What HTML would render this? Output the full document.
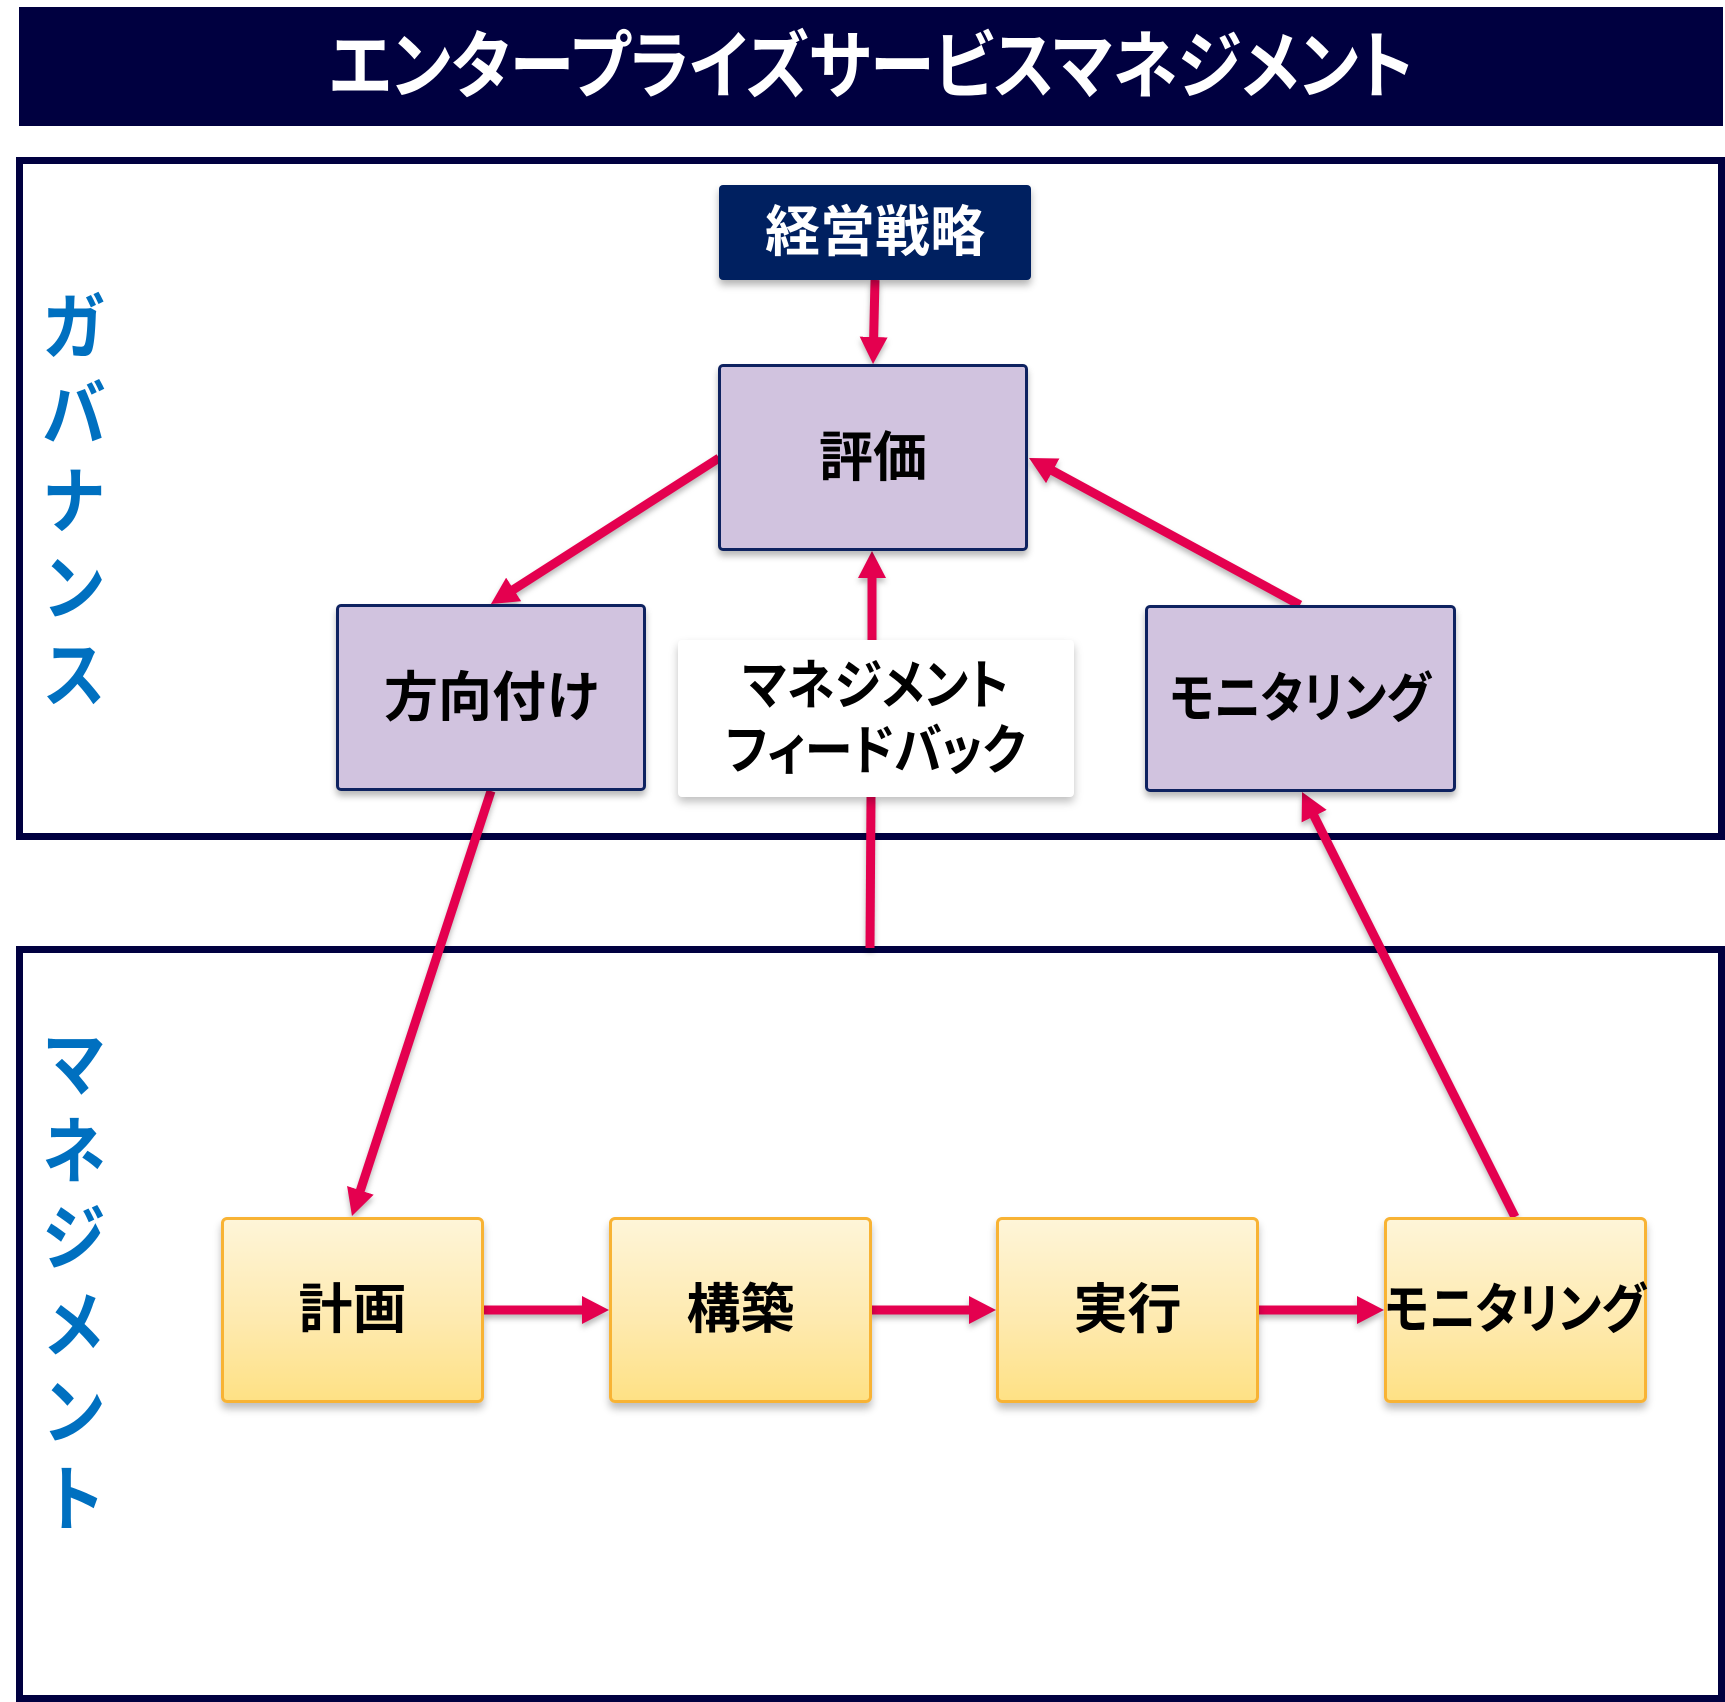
<!DOCTYPE html>
<html lang="ja">
<head>
<meta charset="utf-8">
<style>
  html, body { margin:0; padding:0; background:#fff; }
  body { width:1725px; height:1702px; position:relative; overflow:hidden;
         font-family:"Liberation Sans","Noto Sans CJK JP",sans-serif; }
  .abs { position:absolute; box-sizing:border-box; }
  .title { left:19px; top:7px; width:1704px; height:119px; background:#000040;
           display:flex; align-items:center; justify-content:center;
           color:#fff; font-weight:700; font-size:74px; line-height:1;
           font-feature-settings:"palt" 1; white-space:nowrap; }
  .title span { display:inline-block; transform:scaleX(0.88); }
  .frame { border:7px solid #000040; background:#fff; }
  .vlabel { color:#0070C0; font-weight:700; font-size:72px; line-height:87px;
            text-align:center; width:80px; left:34px; transform:scaleX(0.88); }
  .box { display:flex; align-items:center; justify-content:center; z-index:2;
         font-weight:700; font-size:54px; line-height:1; white-space:nowrap;
         font-feature-settings:"palt" 1; color:#000; }
  .box span { display:inline-block; transform:translateY(0px); }
  .box span.k { transform:scaleX(0.87); }
  .lav { background:#D1C3DF; border:3px solid #0E2260; border-radius:5px;
         box-shadow:0 5px 7px rgba(0,0,0,0.28); }
  .yel { background:linear-gradient(to bottom,#FEF5D8 0%,#FEEAB0 55%,#FEE185 100%);
         border:3px solid #F8B334; border-radius:6px;
         box-shadow:0 6px 8px rgba(0,0,0,0.25); }
  .navy { background:#002060; color:#fff; border-radius:4px;
          box-shadow:0 5px 8px rgba(0,0,0,0.3); font-size:55px; }
  .fb { background:#fff; border-radius:4px; box-shadow:0 5px 9px rgba(0,0,0,0.25);
        flex-direction:column; line-height:65px; font-size:54px; }
  .fb span { transform:scaleX(0.89) !important; }
  svg { position:absolute; left:0; top:0; z-index:1; }
</style>
</head>
<body>

<div class="abs title"><span>エンタープライズサービスマネジメント</span></div>

<div class="abs frame" style="left:16px; top:157px; width:1709px; height:683px;"></div>
<div class="abs frame" style="left:16px; top:946px; width:1709px; height:756px;"></div>

<div class="abs vlabel" style="top:286px;">ガ<br>バ<br>ナ<br>ン<br>ス</div>
<div class="abs vlabel" style="top:1023px;">マ<br>ネ<br>ジ<br>メ<br>ン<br>ト</div>

<svg width="1725" height="1702" viewBox="0 0 1725 1702">
  <defs>
    <marker id="ah" markerUnits="userSpaceOnUse" markerWidth="28" markerHeight="28"
            refX="7" refY="14" orient="auto">
      <path d="M0,0 L27,14 L0,28 z" fill="#E4004F"/>
    </marker>
  </defs>
  <g stroke="#E4004F" stroke-width="9" fill="none" style="filter: drop-shadow(0 4px 3px rgba(0,0,0,0.28));">
    <line x1="875" y1="280" x2="873.5" y2="344" marker-end="url(#ah)"/>
    <line x1="719" y1="458" x2="507.8" y2="593.2" marker-end="url(#ah)"/>
    <line x1="1300" y1="605" x2="1046.6" y2="467.5" marker-end="url(#ah)"/>
    <line x1="872" y1="640" x2="872" y2="571" marker-end="url(#ah)"/>
    <line x1="871" y1="797" x2="870" y2="948"/>
    <line x1="491" y1="791" x2="358.2" y2="1197" marker-end="url(#ah)"/>
    <line x1="1515" y1="1217" x2="1311" y2="809.9" marker-end="url(#ah)"/>
    <line x1="484" y1="1310" x2="589" y2="1310" marker-end="url(#ah)"/>
    <line x1="871" y1="1310" x2="976" y2="1310" marker-end="url(#ah)"/>
    <line x1="1258" y1="1310" x2="1364" y2="1310" marker-end="url(#ah)"/>
  </g>
</svg>

<div class="abs box navy" style="left:719px; top:185px; width:312px; height:95px;"><span>経営戦略</span></div>
<div class="abs box lav" style="left:718px; top:364px; width:310px; height:187px;"><span>評価</span></div>
<div class="abs box lav" style="left:336px; top:604px; width:310px; height:187px;"><span>方向付け</span></div>
<div class="abs box lav" style="left:1145px; top:605px; width:311px; height:187px;"><span class="k">モニタリング</span></div>
<div class="abs box fb" style="left:678px; top:640px; width:396px; height:157px;">
  <span>マネジメント</span><span>フィードバック</span>
</div>

<div class="abs box yel" style="left:221px; top:1217px; width:263px; height:186px;"><span>計画</span></div>
<div class="abs box yel" style="left:609px; top:1217px; width:263px; height:186px;"><span>構築</span></div>
<div class="abs box yel" style="left:996px; top:1217px; width:263px; height:186px;"><span>実行</span></div>
<div class="abs box yel" style="left:1384px; top:1217px; width:263px; height:186px;"><span class="k">モニタリング</span></div>

</body>
</html>
